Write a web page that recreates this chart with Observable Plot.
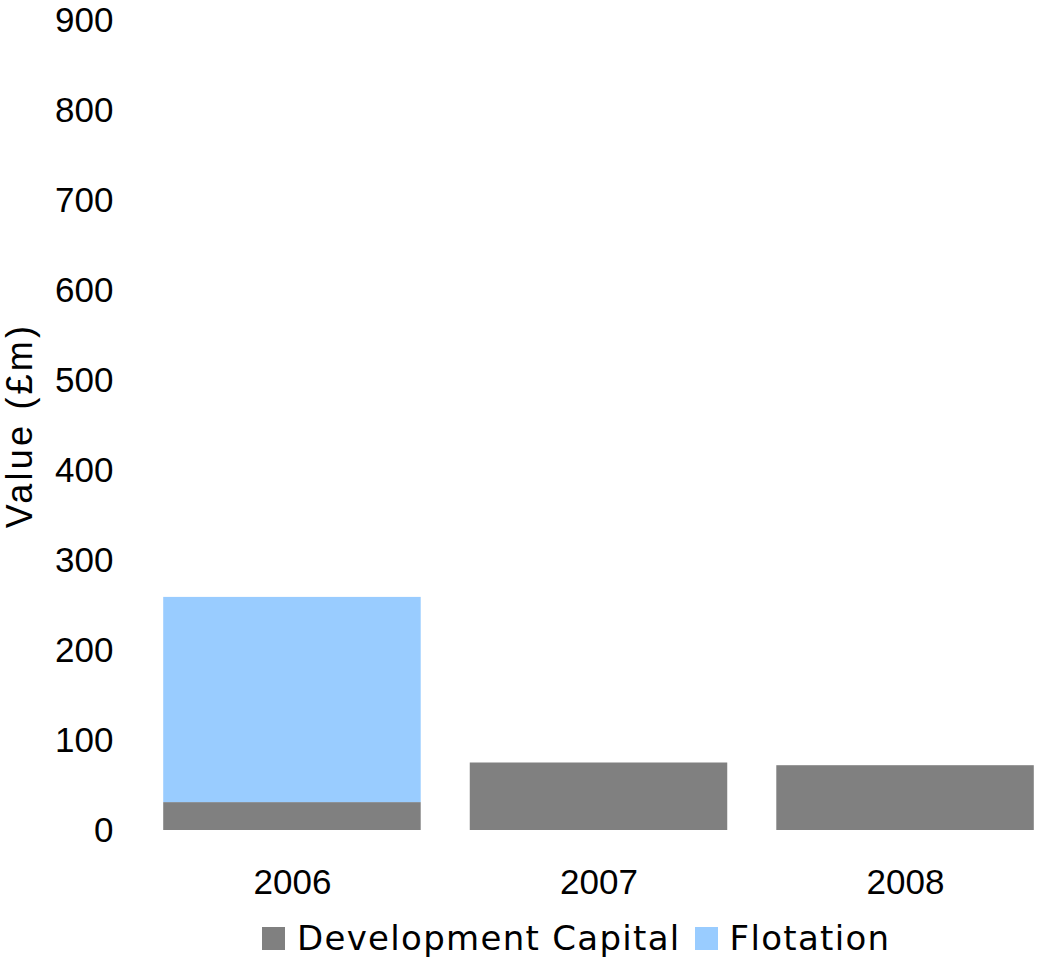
<!DOCTYPE html>
<html>
<head>
<meta charset="utf-8">
<script src="https://cdn.jsdelivr.net/npm/d3@7"></script>
<script src="https://cdn.jsdelivr.net/npm/@observablehq/plot@0.6"></script>
<style>
  html, body { margin: 0; padding: 0; background: #fff; }
  #chart svg { display: block; }
  #chart svg g[aria-label="y-axis label"] text { font-size: 36px; letter-spacing: 3.2px; }
  .legend { display: flex; align-items: center; font-family: "DejaVu Sans", sans-serif; font-size: 34px; letter-spacing: 1.3px; color: #000; margin-left: 262px; margin-top: 13px; }
  .legend .sw { width: 23px; height: 23px; display: inline-block; margin-right: 12px; }
  .legend .item { display: flex; align-items: center; margin-right: 14px; }
</style>
</head>
<body>
<div id="chart"></div>
<script>
const years = ["2006", "2007", "2008"];
const seriesNames = ["Development Capital", "Flotation"];
const developmentCapital = [31, 75, 72];
const flotation = [228, 0, 0];
const colors = ["#808080", "#99ccff"];
const yTicks = [0, 100, 200, 300, 400, 500, 600, 700, 800, 900];

const data = [];
years.forEach((y, i) => {
  data.push({year: y, series: seriesNames[0], value: developmentCapital[i]});
  data.push({year: y, series: seriesNames[1], value: flotation[i]});
});

const chart = Plot.plot({
  width: 1039,
  height: 905,
  marginTop: 20,
  marginBottom: 75,
  marginLeft: 158,
  marginRight: 0,
  style: {fontFamily: "'Liberation Sans', Arial, sans-serif", fontSize: "35px", color: "#000", background: "#fff"},
  x: {domain: years, paddingInner: 0.16, paddingOuter: 0.017, round: false, label: null, tickSize: 0, tickPadding: 39},
  y: {domain: [0, 900], ticks: yTicks, tickSize: 0, tickPadding: 45, label: "Value (£m)", labelAnchor: "center", labelArrow: "none", labelOffset: 152},
  color: {domain: seriesNames, range: colors},
  marks: [
    Plot.barY(data, Plot.stackY({x: "year", y: "value", fill: "series", order: seriesNames}))
  ]
});
document.getElementById("chart").appendChild(chart);

const legend = document.createElement("div");
legend.className = "legend";
seriesNames.forEach((s, i) => {
  const item = document.createElement("span");
  item.className = "item";
  const sw = document.createElement("span");
  sw.className = "sw";
  sw.style.background = colors[i];
  item.appendChild(sw);
  item.appendChild(document.createTextNode(s));
  legend.appendChild(item);
});
document.body.appendChild(legend);
</script>
</body>
</html>
